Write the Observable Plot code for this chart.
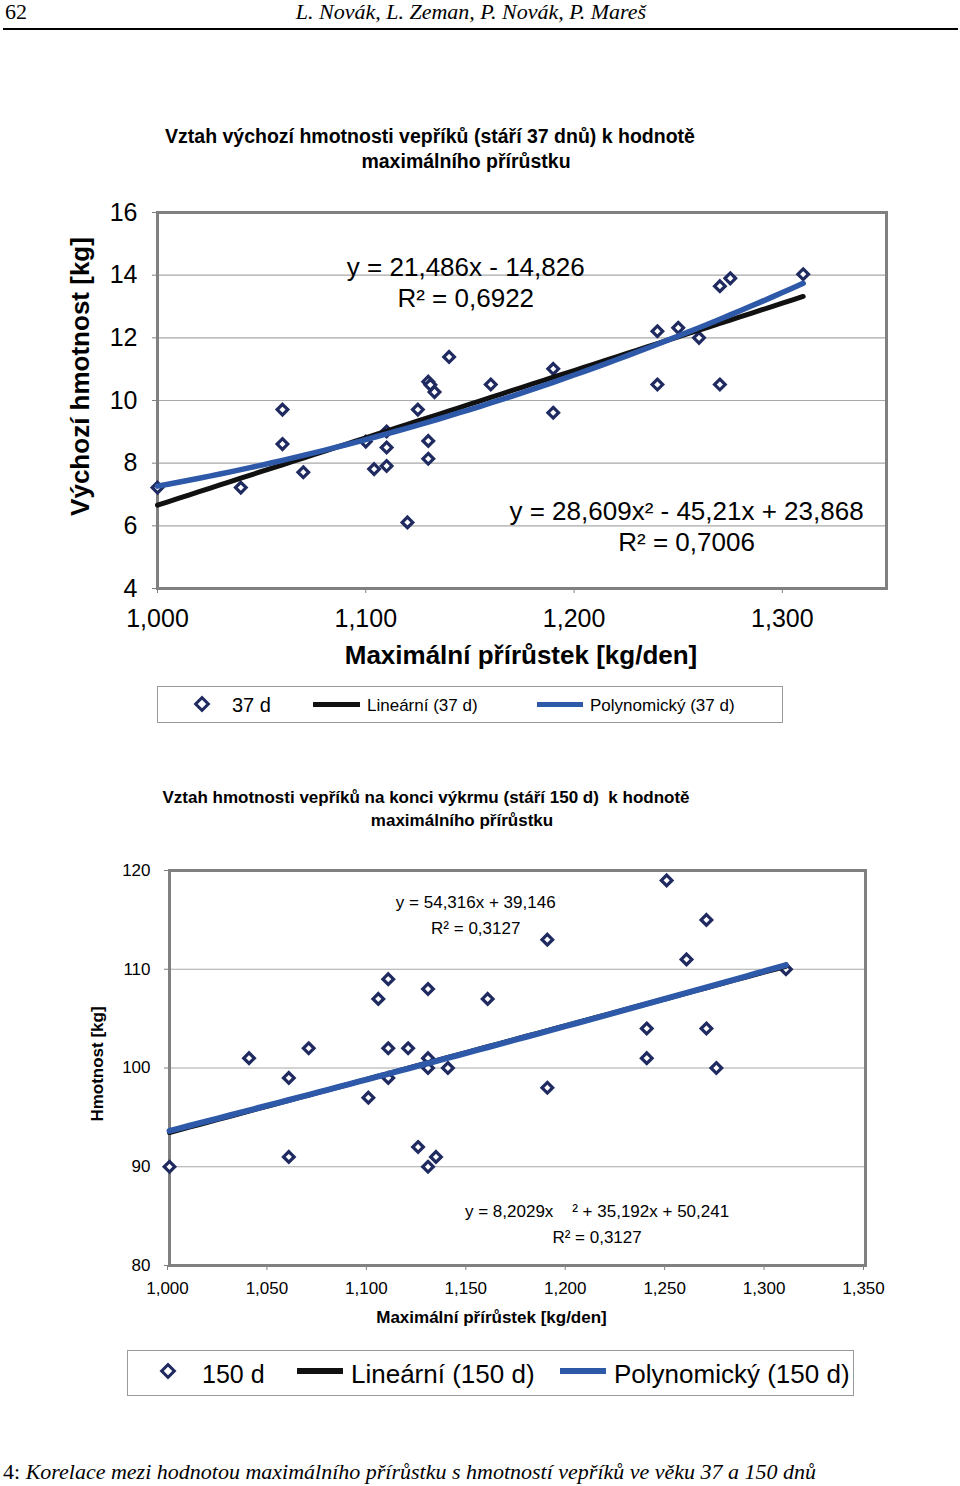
<!DOCTYPE html>
<html>
<head>
<meta charset="utf-8">
<script src="https://cdn.jsdelivr.net/npm/d3@7"></script>
<script src="https://cdn.jsdelivr.net/npm/@observablehq/plot@0.6"></script>
<style>
  html, body { margin: 0; padding: 0; background: #fff; }
  #page { position: relative; width: 960px; height: 1486px; overflow: hidden; background: #fff; }
  .t { position: absolute; white-space: pre; line-height: 1; }
  .chart { position: absolute; left: 0; }
</style>
</head>
<body>
<div id="page"></div>
<script>
// ---------- data ----------
// chart 1: 37-day weight vs maximum daily gain
const gain37   = [1.000, 1.040, 1.060, 1.060, 1.070, 1.100, 1.104, 1.110, 1.110, 1.110, 1.120, 1.125, 1.130, 1.131, 1.133, 1.130, 1.130, 1.140, 1.160, 1.190, 1.190, 1.240, 1.240, 1.250, 1.260, 1.270, 1.275, 1.270, 1.310];
const weight37 = [7.22, 7.22, 9.71, 8.61, 7.71, 8.69, 7.81, 7.91, 8.50, 9.01, 6.11, 9.71, 10.60, 10.50, 10.27, 8.71, 8.14, 11.39, 10.51, 11.01, 9.61, 12.21, 10.51, 12.32, 12.00, 13.65, 13.90, 10.51, 14.03];
// chart 2: 150-day weight vs maximum daily gain
const gain150   = [1.000, 1.040, 1.060, 1.060, 1.070, 1.100, 1.105, 1.110, 1.110, 1.110, 1.120, 1.125, 1.130, 1.130, 1.130, 1.134, 1.130, 1.140, 1.160, 1.190, 1.190, 1.240, 1.240, 1.250, 1.260, 1.270, 1.270, 1.275, 1.310];
const weight150 = [90, 101, 99, 91, 102, 97, 107, 109, 102, 99, 102, 92, 108, 101, 100, 91, 90, 100, 107, 113, 98, 104, 101, 119, 111, 115, 104, 100, 110];

// trendline equations printed on the charts (coefficients, highest power first)
const linear37  = [21.486, -14.826];
const poly37    = [28.609, -45.21, 23.868];
const linear150 = [54.316, 39.146];
const poly150   = [8.2029, 35.192, 50.241];
const trendRange = [1.0, 1.31];

// ticks
const yTicks1 = [4, 6, 8, 10, 12, 14, 16];
const xTicks1 = [1.0, 1.1, 1.2, 1.3];
const xTickLabels1 = ["1,000", "1,100", "1,200", "1,300"];
const yTicks2 = [80, 90, 100, 110, 120];
const xTicks2 = [1.0, 1.05, 1.1, 1.15, 1.2, 1.25, 1.3, 1.35];
const xTickLabels2 = ["1,000", "1,050", "1,100", "1,150", "1,200", "1,250", "1,300", "1,350"];

// texts
const header = { page: "62", authors: "L. Novák, L. Zeman, P. Novák, P. Mareš" };
const title1 = ["Vztah výchozí hmotnosti vepříků (stáří 37 dnů) k hodnotě", "maximálního přírůstku"];
const title2 = ["Vztah hmotnosti vepříků na konci výkrmu (stáří 150 d)  k hodnotě", "maximálního přírůstku"];
const yLabel1 = "Výchozí hmotnost [kg]";
const yLabel2 = "Hmotnost [kg]";
const xLabel = "Maximální přírůstek [kg/den]";
const eq1a = "y = 21,486x - 14,826\nR² = 0,6922";
const eq1b = "y = 28,609x² - 45,21x + 23,868\nR² = 0,7006";
const eq2a = "y = 54,316x + 39,146\nR² = 0,3127";
const eq2b = "y = 8,2029x\u00a0\u00a0\u00a0\u00a0² + 35,192x + 50,241\nR² = 0,3127";
const legend1 = ["37 d", "Lineární (37 d)", "Polynomický (37 d)"];
const legend2 = ["150 d", "Lineární (150 d)", "Polynomický (150 d)"];
const caption = { num: "4: ", text: "Korelace mezi hodnotou maximálního přírůstku s hmotností vepříků ve věku 37 a 150 dnů" };

// ---------- helpers ----------
const SANS = "'Liberation Sans', Arial, Helvetica, sans-serif";
const SERIF = "'Liberation Serif', 'Times New Roman', serif";
const NAVY = "#1f2a60", BLUE = "#2e58a8", BLACK = "#111111", FRAME = "#808080", GRID = "#a8a8a8";
const page = document.getElementById("page");

function txt(s, x, y, o = {}) {
  const d = document.createElement("div");
  d.className = "t";
  d.textContent = s;
  d.style.left = x + "px";
  d.style.top = y + "px";
  d.style.fontFamily = o.family || SANS;
  d.style.fontSize = (o.size || 16) + "px";
  d.style.fontWeight = o.weight || "normal";
  d.style.fontStyle = o.italic ? "italic" : "normal";
  d.style.color = "#000";
  d.style.transform = `translate(${o.anchor === "start" ? "0" : "-50%"}, -50%)`;
  page.appendChild(d);
  return d;
}
function box(x, y, w, h, css) {
  const d = document.createElement("div");
  d.style.position = "absolute";
  d.style.left = x + "px"; d.style.top = y + "px";
  d.style.width = w + "px"; d.style.height = h + "px";
  Object.assign(d.style, css);
  page.appendChild(d);
  return d;
}
function diamond(cx, cy, side, bw) {
  box(cx - side / 2, cy - side / 2, side - 2 * bw, side - 2 * bw,
      { border: `${bw}px solid ${NAVY}`, background: "#fff", transform: "rotate(45deg)" });
}
function curve(coef) {
  const pts = [];
  for (let i = 0; i <= 62; i++) {
    const x = trendRange[0] + (trendRange[1] - trendRange[0]) * i / 62;
    let y = 0;
    for (const c of coef) y = y * x + c;
    pts.push({ x, y });
  }
  return pts;
}
const toPoints = (xs, ys) => xs.map((x, i) => ({ x, y: ys[i] }));

// ---------- header ----------
txt(header.page, 5, 12, { family: SERIF, size: 22, anchor: "start" });
txt(header.authors, 471, 12, { family: SERIF, size: 22, italic: true });
box(3, 28, 955, 2, { background: "#000" });

// ---------- chart 1 ----------
txt(title1[0], 430, 137, { size: 19.5, weight: "bold" });
txt(title1[1], 466, 162, { size: 19.5, weight: "bold" });

const fmt1 = new Map(xTicks1.map((v, i) => [v, xTickLabels1[i]]));
const chart1 = Plot.plot({
  width: 960, height: 480,
  marginLeft: 157, marginRight: 74, marginTop: 22, marginBottom: 82,
  style: { fontFamily: SANS, fontSize: "25px", background: "transparent", color: "#000", overflow: "visible" },
  x: { domain: [1.0, 1.35] },
  y: { domain: [4, 16] },
  marks: [
    Plot.gridY(yTicks1.slice(1, -1), { stroke: GRID, strokeOpacity: 1, strokeWidth: 1.2 }),
    Plot.axisY({ ticks: yTicks1, tickSize: 5, tickPadding: 15, stroke: FRAME, label: null }),
    Plot.axisX({ ticks: xTicks1, tickSize: 5, tickPadding: 16, stroke: FRAME, label: null, tickFormat: d => fmt1.get(d) }),
    Plot.frame({ stroke: FRAME, strokeWidth: 3 }),
    Plot.dot(toPoints(gain37, weight37), { x: "x", y: "y", symbol: "diamond2", r: 4.8, stroke: NAVY, strokeWidth: 3.2, fill: "#fff" }),
    Plot.line(curve(linear37), { x: "x", y: "y", stroke: BLACK, strokeWidth: 5 }),
    Plot.line(curve(poly37), { x: "x", y: "y", stroke: BLUE, strokeWidth: 5.5 }),
    Plot.text([{ x: 1.148, y: 13.81 }], { x: "x", y: "y", text: () => eq1a, fontSize: 26, lineHeight: 1.2, textAnchor: "middle", lineAnchor: "middle" }),
    Plot.text([{ x: 1.254, y: 6.0 }], { x: "x", y: "y", text: () => eq1b, fontSize: 26, lineHeight: 1.2, textAnchor: "middle", lineAnchor: "middle" }),
    Plot.text([yLabel1], { text: d => d, frameAnchor: "left", dx: -77, dy: -24, rotate: -90, fontSize: 26, fontWeight: "bold", textAnchor: "middle", lineAnchor: "middle" }),
    Plot.text([xLabel], { text: d => d, frameAnchor: "bottom", dx: -1, dy: 67, fontSize: 26, fontWeight: "bold", textAnchor: "middle", lineAnchor: "middle" })
  ]
});
chart1.classList.add("chart");
chart1.style.top = "190px";
page.appendChild(chart1);

// legend 1
box(157, 686, 624, 35, { border: "1px solid #9a9a9a", background: "#fff" });
diamond(202, 704, 12, 3);
txt(legend1[0], 232, 705, { size: 20, anchor: "start" });
box(313, 701.5, 47, 5, { background: BLACK });
txt(legend1[1], 367, 705, { size: 17, anchor: "start" });
box(537, 701.5, 46, 5, { background: BLUE });
txt(legend1[2], 590, 705, { size: 17, anchor: "start" });

// ---------- chart 2 ----------
txt(title2[0], 426, 797, { size: 17, weight: "bold" });
txt(title2[1], 462, 820, { size: 17, weight: "bold" });

const fmt2 = new Map(xTicks2.map((v, i) => [v, xTickLabels2[i]]));
const chart2 = Plot.plot({
  width: 960, height: 480,
  marginLeft: 169, marginRight: 95, marginTop: 20, marginBottom: 65,
  style: { fontFamily: SANS, fontSize: "17px", background: "transparent", color: "#000", overflow: "visible" },
  x: { domain: [1.0, 1.35] },
  y: { domain: [80, 120] },
  marks: [
    Plot.gridY(yTicks2.slice(1, -1), { stroke: GRID, strokeOpacity: 1, strokeWidth: 1.2 }),
    Plot.axisY({ ticks: yTicks2, tickSize: 5, tickPadding: 14, stroke: FRAME, label: null }),
    Plot.axisX({ ticks: xTicks2, tickSize: 5, tickPadding: 11, stroke: FRAME, label: null, tickFormat: d => fmt2.get(d), dx: -2 }),
    Plot.frame({ stroke: FRAME, strokeWidth: 3 }),
    Plot.dot(toPoints(gain150, weight150), { x: "x", y: "y", symbol: "diamond2", r: 4.8, stroke: NAVY, strokeWidth: 3.2, fill: "#fff" }),
    Plot.line(curve(linear150), { x: "x", y: "y", stroke: BLACK, strokeWidth: 5 }),
    Plot.line(curve(poly150), { x: "x", y: "y", stroke: BLUE, strokeWidth: 6 }),
    Plot.text([{ x: 1.154, y: 115.75 }], { x: "x", y: "y", text: () => eq2a, fontSize: 17, lineHeight: 1.55, textAnchor: "middle", lineAnchor: "middle" }),
    Plot.text([{ x: 1.215, y: 84.46 }], { x: "x", y: "y", text: () => eq2b, fontSize: 17, lineHeight: 1.55, textAnchor: "middle", lineAnchor: "middle" }),
    Plot.text([yLabel2], { text: d => d, frameAnchor: "left", dx: -72, dy: -4, rotate: -90, fontSize: 17, fontWeight: "bold", textAnchor: "middle", lineAnchor: "middle" }),
    Plot.text([xLabel], { text: d => d, frameAnchor: "bottom", dx: -26, dy: 52, fontSize: 17, fontWeight: "bold", textAnchor: "middle", lineAnchor: "middle" })
  ]
});
chart2.classList.add("chart");
chart2.style.top = "850px";
page.appendChild(chart2);

// legend 2
box(127, 1350, 725, 44, { border: "1px solid #9a9a9a", background: "#fff" });
diamond(168, 1371, 12, 3);
txt(legend2[0], 202, 1374, { size: 25, anchor: "start" });
box(297, 1368, 46, 6, { background: BLACK });
txt(legend2[1], 351, 1374, { size: 26, anchor: "start" });
box(560, 1368, 46, 6, { background: BLUE });
txt(legend2[2], 614, 1374, { size: 26, anchor: "start" });

// ---------- caption ----------
const cap = txt(caption.num, 3, 1472, { family: SERIF, size: 22, anchor: "start" });
const it = document.createElement("span");
it.style.fontStyle = "italic";
it.textContent = caption.text;
cap.appendChild(it);
</script>
</body>
</html>
